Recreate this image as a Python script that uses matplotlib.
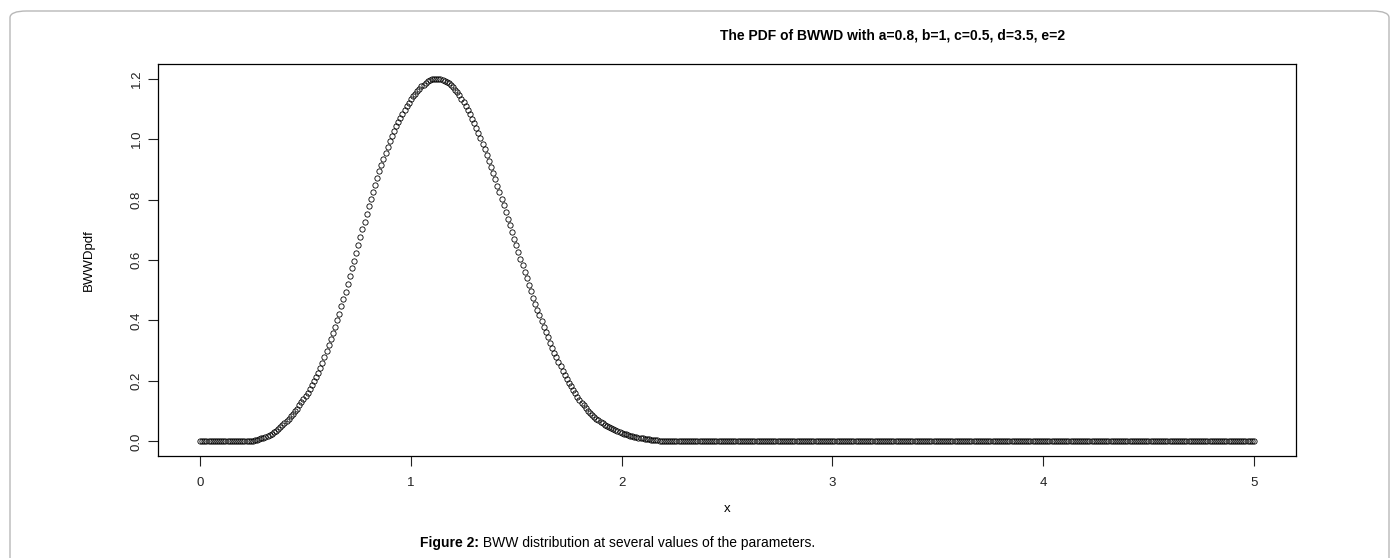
import numpy as np
import matplotlib
matplotlib.use('Agg')
import matplotlib.pyplot as plt
from matplotlib.patches import FancyBboxPatch

plt.rcParams['font.family'] = ['Liberation Sans', 'DejaVu Sans']

# x grid of the R plot, step 0.01 from 0 to 5
x_start, x_stop, x_step = 0.0, 5.0, 0.01

# pdf values, one per grid point (x = 0.00 .. 1.12)
pdf_rise = [
    0.000, 0.000, 0.000, 0.000, 0.000, 0.000, 0.000, 0.000, 0.000, 0.000,
    0.000, 0.000, 0.000, 0.000, 0.000, 0.000, 0.000, 0.000, 0.000, 0.000,
    0.000, 0.000, 0.001, 0.001, 0.002, 0.003, 0.004, 0.006, 0.008, 0.010,
    0.012, 0.015, 0.018, 0.022, 0.026, 0.030, 0.035, 0.041, 0.047, 0.053,
    0.060, 0.067, 0.075, 0.083, 0.091, 0.100, 0.109, 0.119, 0.129, 0.139,
    0.150, 0.161, 0.173, 0.186, 0.199, 0.213, 0.228, 0.244, 0.261, 0.279,
    0.298, 0.318, 0.338, 0.358, 0.379, 0.400, 0.423, 0.447, 0.471, 0.495,
    0.520, 0.546, 0.572, 0.598, 0.624, 0.650, 0.676, 0.702, 0.727, 0.752,
    0.777, 0.801, 0.825, 0.849, 0.872, 0.894, 0.915, 0.935, 0.955, 0.974,
    0.992, 1.009, 1.026, 1.042, 1.057, 1.071, 1.084, 1.097, 1.109, 1.120,
    1.131, 1.141, 1.150, 1.159, 1.167, 1.174, 1.180, 1.186, 1.191, 1.195,
    1.197, 1.199, 1.200,
]
# x = 1.13 .. 2.26
pdf_fall = [
    1.199, 1.198, 1.196, 1.193, 1.189, 1.184, 1.178,
    1.171, 1.163, 1.154, 1.144, 1.133, 1.121, 1.109, 1.096, 1.082, 1.067,
    1.052, 1.036, 1.019, 1.002, 0.984, 0.966, 0.947, 0.928, 0.908, 0.888,
    0.867, 0.846, 0.825, 0.803, 0.781, 0.759, 0.737, 0.715, 0.693, 0.670,
    0.648, 0.626, 0.604, 0.582, 0.560, 0.539, 0.518, 0.497, 0.476, 0.456,
    0.436, 0.417, 0.398, 0.379, 0.361, 0.344, 0.327, 0.310, 0.294, 0.278,
    0.263, 0.248, 0.234, 0.220, 0.207, 0.194, 0.182, 0.170, 0.159, 0.148,
    0.138, 0.128, 0.119, 0.110, 0.100, 0.093, 0.086, 0.080, 0.075, 0.070,
    0.065, 0.060, 0.055, 0.051, 0.047, 0.043, 0.040, 0.037, 0.034, 0.031,
    0.028, 0.026, 0.024, 0.021, 0.019, 0.017, 0.016, 0.014, 0.013, 0.011,
    0.010, 0.009, 0.008, 0.007, 0.006, 0.005, 0.004, 0.004, 0.003, 0.003,
    0.002, 0.002, 0.002, 0.001, 0.001, 0.001, 0.001,
]
# everything from x = 2.27 on sits on zero in the picture
pdf_tail = [0.000] * 274

x_ticks = [0, 1, 2, 3, 4, 5]
y_ticks = [0.0, 0.2, 0.4, 0.6, 0.8, 1.0, 1.2]

title = 'The PDF of BWWD with a=0.8, b=1, c=0.5, d=3.5, e=2'
caption_bold = 'Figure 2:'
caption_rest = ' BWW distribution at several values of the parameters.'

x = np.arange(x_start, x_stop + x_step / 2, x_step)
y = np.array(pdf_rise + pdf_fall + pdf_tail)

W, H = 1397, 558
fig = plt.figure(figsize=(W / 100, H / 100), dpi=100)

# rounded frame of the journal figure
frame = FancyBboxPatch((10 / W, -0.05), (W - 18) / W, (H - 11) / H + 0.05,
                       boxstyle='round,pad=0,rounding_size=0.012',
                       transform=fig.transFigure, fill=False,
                       edgecolor='#b8b8b8', linewidth=1.0)
fig.patches.append(frame)

ax = fig.add_axes([158 / W, 1 - 456 / H, (1296 - 158) / W, (456 - 64) / H])
ax.plot(x, y, linestyle='none', marker='o', markersize=3.8,
        markerfacecolor='none', markeredgecolor='black', markeredgewidth=0.6)

ax.set_xlim(-0.2, 5.2)
ax.set_ylim(-0.048, 1.248)
ax.set_xticks(x_ticks)
ax.set_xticklabels([str(t) for t in x_ticks])
ax.set_yticks(y_ticks)
ax.set_yticklabels([f'{t:.1f}' for t in y_ticks], rotation=90, va='center')
ax.tick_params(direction='out', length=7, width=0.8, labelsize=9.5,
               colors='#222222')
ax.tick_params(axis='x', pad=8)
ax.tick_params(axis='y', pad=4)
for s in ax.spines.values():
    s.set_linewidth(0.9)

ax.set_xlabel('x', fontsize=9.5, labelpad=10)
ax.set_ylabel('BWWDpdf', fontsize=9.5, labelpad=26)

fig.text(893 / W, 1 - 35 / H, title, ha='center', va='center',
         fontsize=10, fontweight='bold')

cap = fig.text(420 / W, 1 - 543 / H, caption_bold, ha='left', va='center',
               fontsize=10, fontweight='bold',
               family=['Liberation Sans Narrow', 'Liberation Sans'])
fig.canvas.draw()
bb = cap.get_window_extent()
fig.text(bb.x1 / W, 1 - 543 / H, caption_rest, ha='left', va='center',
         fontsize=10, family=['Liberation Sans Narrow', 'Liberation Sans'])

fig.savefig('out.png', dpi=100)
